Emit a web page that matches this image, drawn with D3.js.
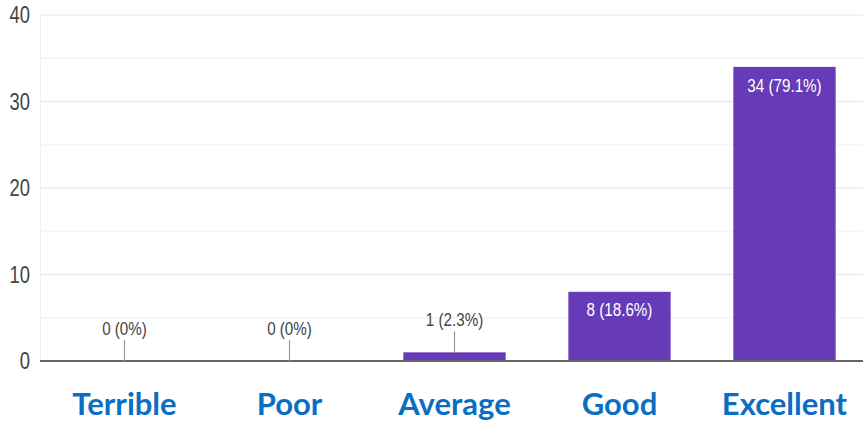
<!DOCTYPE html>
<html>
<head>
<meta charset="utf-8">
<script src="https://cdn.jsdelivr.net/npm/d3@7"></script>
<style>
  body { margin: 0; background: #fff; }
  .tick-label, .value-label { font-family: "Liberation Sans", Arial, sans-serif; }
  .cat-label { font-family: "Lato", "Open Sans", sans-serif; font-weight: bold; }
</style>
</head>
<body>
<script>
// data
var categories = ['Terrible', 'Poor', 'Average', 'Good', 'Excellent'];
var counts = [0, 0, 1, 8, 34];
var percents = ['0%', '0%', '2.3%', '18.6%', '79.1%'];
var yTicks = [0, 10, 20, 30, 40];
var yMinorTicks = [5, 15, 25, 35];

var w = 863, h = 424;
var barColor = '#673ab7';
var catColor = '#0a6fc2';
var narrow = 0.8; // squeeze text horizontally to fake a condensed face

var svg = d3.select('body').append('svg')
            .attr('width', w)
            .attr('height', h);

var xScale = d3.scaleBand()
               .domain(categories)
               .range([42, 867])
               .paddingInner(0.38)
               .paddingOuter(0.19);
var yScale = d3.scaleLinear().domain([0, 40]).range([361, 15]);

// condensed text helper
function narrowText(g, x, y, str, size, fill, anchor) {
  return g.append('text')
          .attr('transform', 'translate(' + x + ',' + y + ') scale(' + narrow + ',1)')
          .attr('dy', '0.35em')
          .attr('text-anchor', anchor)
          .attr('font-size', size)
          .attr('fill', fill)
          .text(str);
}

// minor grid
svg.append('g').selectAll('line')
   .data(yMinorTicks)
   .enter().append('line')
   .attr('x1', 40).attr('x2', w)
   .attr('y1', function(d) { return yScale(d); })
   .attr('y2', function(d) { return yScale(d); })
   .attr('stroke', '#f6f6f6')
   .attr('stroke-width', 1.5);

// major grid
svg.append('g').selectAll('line')
   .data(yTicks.filter(function(d) { return d > 0; }))
   .enter().append('line')
   .attr('x1', 40).attr('x2', w)
   .attr('y1', function(d) { return yScale(d); })
   .attr('y2', function(d) { return yScale(d); })
   .attr('stroke', '#ececec')
   .attr('stroke-width', 1.5);

// faint left edge
svg.append('line')
   .attr('x1', 40.5).attr('x2', 40.5)
   .attr('y1', yScale(40)).attr('y2', yScale(0))
   .attr('stroke', '#f0f0f0');

// y tick labels
var yLab = svg.append('g').attr('class', 'tick-label');
yTicks.forEach(function(d) {
  narrowText(yLab, 30, yScale(d), d, 23, '#444', 'end');
});

// bars
svg.append('g').selectAll('rect')
   .data(counts)
   .enter().append('rect')
   .attr('x', function(d, i) { return xScale(categories[i]); })
   .attr('y', function(d) { return yScale(d); })
   .attr('width', xScale.bandwidth())
   .attr('height', function(d) { return yScale(0) - yScale(d); })
   .attr('fill', barColor);

// baseline
svg.append('line')
   .attr('x1', 40).attr('x2', w)
   .attr('y1', yScale(0)).attr('y2', yScale(0))
   .attr('stroke', '#666')
   .attr('stroke-width', 2);

// value labels: inside tall bars, above short ones with a leader line
var labels = svg.append('g').attr('class', 'value-label');
counts.forEach(function(d, i) {
  var cx = xScale(categories[i]) + xScale.bandwidth() / 2;
  var top = yScale(d);
  var txt = d + ' (' + percents[i] + ')';
  if (yScale(0) - top > 40) {
    narrowText(labels, cx, top + 18, txt, 19, '#fff', 'middle');
  } else {
    labels.append('line')
          .attr('x1', cx).attr('x2', cx)
          .attr('y1', top - 21).attr('y2', top)
          .attr('stroke', '#999')
          .attr('stroke-width', 1.2);
    narrowText(labels, cx, top - 33, txt, 19, '#444', 'middle');
  }
});

// category labels
svg.append('g').selectAll('text')
   .data(categories)
   .enter().append('text')
   .attr('class', 'cat-label')
   .attr('x', function(d) { return xScale(d) + xScale.bandwidth() / 2; })
   .attr('y', 415)
   .attr('text-anchor', 'middle')
   .attr('font-size', 31)
   .attr('fill', catColor)
   .text(function(d) { return d; });
</script>
</body>
</html>
